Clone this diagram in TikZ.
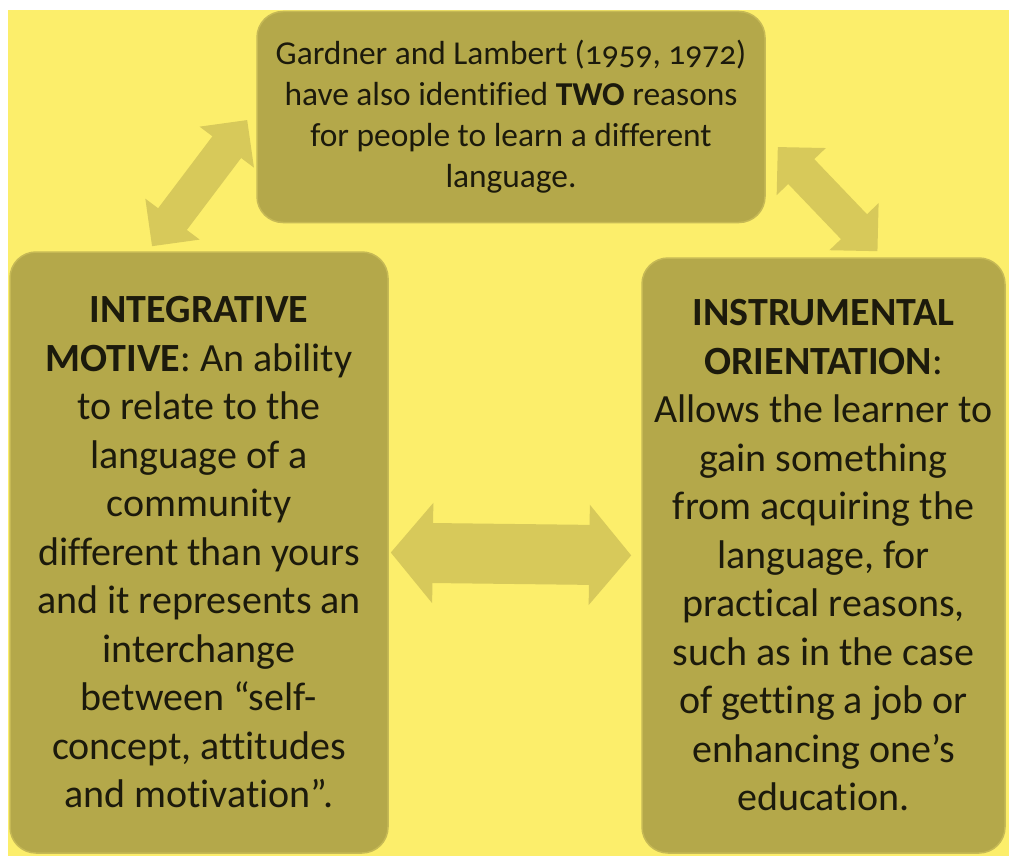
\documentclass[tikz,border=0pt]{standalone}
\usepackage{fontspec}
\setmainfont{Carlito}[Ligatures=NoCommon]
\newfontfamily\oldnum[Numbers=OldStyle,Ligatures=NoCommon]{Carlito}
\usetikzlibrary{arrows.meta}
\definecolor{bgyellow}{HTML}{FCEE6B}
\definecolor{boxolive}{HTML}{B4A84A}
\definecolor{boxedge}{HTML}{C6B955}
\definecolor{arrowfill}{HTML}{D7C95A}
\definecolor{inktext}{HTML}{1C1A0C}
\begin{document}
\begin{tikzpicture}[x=1pt, y=-1pt,
  box/.style = {shape=rectangle, rounded corners=26pt, fill=boxolive, draw=boxedge,
    line width=1.5pt, align=center, text=inktext, inner sep=0pt},
  bigtext/.style = {font=\fontsize{40}{48.5}\selectfont},
  toptext/.style = {font=\fontsize{33.4}{41}\selectfont},
  blockarrow/.style = {draw=arrowfill, line width=#1}]
  \useasboundingbox (0,0) rectangle (1009,856);
  \fill[white] (0,0) rectangle (1009,856);
  \fill[bgyellow] (8,10) rectangle (1009,856);
  % the three boxes
  \node[box, toptext, minimum width=508pt, minimum height=211pt] (gardner) at (511,117)
    {Gardner and Lambert ({\oldnum 1959, 1972})\\
     have also identified \textbf{TWO} reasons\\
     for people to learn a different\\
     language.};
  \node[box, bigtext, minimum width=378pt, minimum height=601pt] (integ) at (199,552.5)
    {\textbf{INTEGRATIVE}\\
     \textbf{MOTIVE}: An ability\\
     to relate to the\\
     language of a\\
     community\\
     different than yours\\
     and it represents an\\
     interchange\\
     between “self-\\
     concept, attitudes\\
     and motivation”.};
  \node[box, bigtext, minimum width=363pt, minimum height=595pt] (instr) at (823.5,555.5)
    {\textbf{INSTRUMENTAL}\\
     \textbf{ORIENTATION}:\\
     Allows the learner to\\
     gain something\\
     from acquiring the\\
     language, for\\
     practical reasons,\\
     such as in the case\\
     of getting a job or\\
     enhancing one’s\\
     education.};
  % arrow ends
  \coordinate (la) at ([xshift=-47pt,yshift=5pt]integ.north);
  \coordinate (lb) at ([xshift=-9pt,yshift=-3pt]gardner.west);
  \coordinate (ra) at ([xshift=12pt,yshift=-30pt]gardner.east);
  \coordinate (rb) at ([xshift=54pt,yshift=6pt]instr.north);
  % block arrows
  \draw[blockarrow=36pt, {Triangle[length=34pt,width=66pt]}-{Triangle[length=34pt,width=66pt]}]
    (la) -- (lb);
  \draw[blockarrow=36pt, {Triangle[length=34pt,width=66pt]}-{Triangle[length=34pt,width=66pt]}]
    (ra) -- (rb);
  \draw[blockarrow=60pt, {Triangle[length=42pt,width=98pt]}-{Triangle[length=42pt,width=98pt]},
    shorten <=2pt, shorten >=10pt] (integ.east) -- (instr.west);
\end{tikzpicture}
\end{document}
